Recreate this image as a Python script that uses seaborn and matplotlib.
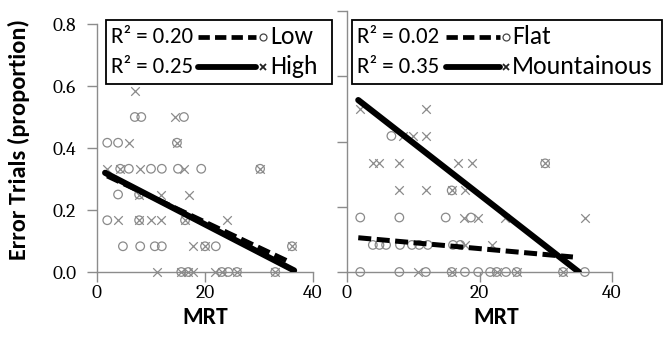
import matplotlib
matplotlib.use("Agg")
import matplotlib.pyplot as plt
import seaborn as sns
import pandas as pd
from matplotlib.lines import Line2D
from matplotlib.patches import Rectangle
from matplotlib.font_manager import FontProperties

# ---------------- data ----------------
# Left panel: Low (circles) / High (crosses)
low_mrt = [7.0, 8.2, 16.1, 1.9, 3.9, 14.8, 4.3, 5.9, 10.0, 12.0, 15.0, 19.3, 30.2,
           3.9, 7.8, 1.9, 7.8, 16.3, 4.8, 8.0, 10.7, 12.0, 20.0, 22.0, 36.1,
           15.6, 16.9, 23.1, 24.3, 25.9, 33.0]
low_err = [0.5, 0.5, 0.5, 0.417, 0.417, 0.417, 0.333, 0.333, 0.333, 0.333, 0.333, 0.333, 0.333,
           0.25, 0.25, 0.167, 0.167, 0.167, 0.083, 0.083, 0.083, 0.083, 0.083, 0.083, 0.083,
           0.0, 0.0, 0.0, 0.0, 0.0, 0.0]
high_mrt = [7.0, 14.4, 5.9, 14.8, 1.9, 4.3, 8.0, 16.1, 30.2, 7.8, 11.9, 17.0,
            3.9, 7.8, 10.0, 11.9, 16.3, 24.0, 17.8, 20.0, 36.1,
            11.1, 15.6, 16.9, 17.8, 21.9, 23.1, 25.9, 33.0]
high_err = [0.583, 0.5, 0.417, 0.417, 0.333, 0.333, 0.333, 0.333, 0.333, 0.25, 0.25, 0.25,
            0.167, 0.167, 0.167, 0.167, 0.167, 0.167, 0.083, 0.083, 0.083,
            0.0, 0.0, 0.0, 0.0, 0.0, 0.0, 0.0, 0.0]

# Right panel: Flat (circles) / Mountainous (crosses)
flat_mrt = [6.7, 29.9, 15.8, 2.0, 7.9, 14.9, 18.7,
            3.9, 4.9, 5.9, 8.0, 9.8, 10.9, 12.2, 16.0, 17.1,
            2.0, 7.9, 11.9, 15.8, 17.8, 19.8, 21.6, 22.6, 24.0, 25.6, 32.6, 35.9]
flat_err = [0.417, 0.333, 0.25, 0.167, 0.167, 0.167, 0.167,
            0.083, 0.083, 0.083, 0.083, 0.083, 0.083, 0.083, 0.083, 0.083,
            0.0, 0.0, 0.0, 0.0, 0.0, 0.0, 0.0, 0.0, 0.0, 0.0, 0.0, 0.0]
mount_mrt = [2.0, 11.9, 8.5, 10.0, 11.9, 3.9, 4.8, 7.9, 16.8, 18.9, 29.9,
             7.9, 11.9, 15.8, 17.8, 17.6, 19.7, 23.9, 35.9, 17.8, 21.9,
             10.7, 15.8, 22.6, 25.6, 32.6]
mount_err = [0.5, 0.5, 0.417, 0.417, 0.417, 0.333, 0.333, 0.333, 0.333, 0.333, 0.333,
             0.25, 0.25, 0.25, 0.25, 0.167, 0.167, 0.167, 0.167, 0.083, 0.083,
             0.0, 0.0, 0.0, 0.0, 0.0]

# Trend lines
low_fit_x, low_fit_y = [1.9, 35.9], [0.31, 0.03]
high_fit_x, high_fit_y = [1.5, 36.5], [0.32, 0.005]
flat_fit_x, flat_fit_y = [1.7, 34.1], [0.105, 0.046]
mount_fit_x, mount_fit_y = [1.7, 35.0], [0.527, 0.0]

legend_left = [("R\u00b2 = 0.20", "dash", "o", "Low"), ("R\u00b2 = 0.25", "solid", "x", "High")]
legend_right = [("R\u00b2 = 0.02", "dash", "o", "Flat"), ("R\u00b2 = 0.35", "solid", "x", "Mountainous")]

x_ticks = [0, 20, 40]
y_ticks = [0.0, 0.2, 0.4, 0.6, 0.8]
y_tick_labels = ["0.0", "0.2", "0.4", "0.6", "0.8"]

# ---------------- style ----------------
sns.set_theme(style="ticks")
SERIF_FAM = ["Caladea", "Liberation Serif", "DejaVu Serif"]
SANS_FAM = ["Carlito", "Lato", "DejaVu Sans"]
plt.rcParams["font.family"] = SANS_FAM

GRAY = "#8a8a8a"
SPINE = "#8c8c8c"
W, H = 663, 345

fig = plt.figure(figsize=(W / 100, H / 100), dpi=100)


def rect(l, r, t, b):
    return [l / W, 1 - b / H, (r - l) / W, (b - t) / H]


axL = fig.add_axes(rect(97, 313, 24, 272))
axR = fig.add_axes(rect(347, 612, 11, 272))

tick_fp = FontProperties(family=SERIF_FAM, size=14)
DASH = (0, (2.6, 1.1))


def draw_panel(ax, cx, cy, xx, xy, fcx, fcy, fxx, fxy):
    dc = pd.DataFrame({"MRT": cx, "err": cy})
    dx = pd.DataFrame({"MRT": xx, "err": xy})
    sns.scatterplot(data=dc, x="MRT", y="err", ax=ax, marker="o", s=38,
                    facecolor="none", edgecolor=GRAY, linewidth=0.9, clip_on=False, zorder=3)
    sns.scatterplot(data=dx, x="MRT", y="err", ax=ax, marker="x", s=38,
                    color=GRAY, linewidth=0.9, clip_on=False, zorder=3)
    sns.lineplot(x=fcx, y=fcy, ax=ax, color="black", linewidth=3.6, linestyle=DASH,
                 estimator=None, zorder=4)
    sns.lineplot(x=fxx, y=fxy, ax=ax, color="black", linewidth=4.4,
                 estimator=None, zorder=4)
    ax.set_xlim(0, 40)
    ax.set_ylim(0, 0.8)
    ax.set_xticks(x_ticks)
    ax.set_xticklabels([str(v) for v in x_ticks])
    ax.set_yticks(y_ticks)
    ax.set_yticklabels(y_tick_labels)
    for s in ["top", "right"]:
        ax.spines[s].set_visible(False)
    for s in ["left", "bottom"]:
        ax.spines[s].set_color(SPINE)
        ax.spines[s].set_linewidth(1.0)
    ax.tick_params(direction="out", length=7, width=1.0, color=SPINE, labelcolor="black")
    ax.tick_params(axis="x", pad=2)
    ax.tick_params(axis="y", pad=8)
    for lbl in ax.get_xticklabels() + ax.get_yticklabels():
        lbl.set_fontproperties(tick_fp)
    ax.set_xlabel("MRT", fontsize=17, fontweight="bold", color="black", family=SANS_FAM)
    ax.set_ylabel("")


draw_panel(axL, low_mrt, low_err, high_mrt, high_err, low_fit_x, low_fit_y, high_fit_x, high_fit_y)
draw_panel(axR, flat_mrt, flat_err, mount_mrt, mount_err, flat_fit_x, flat_fit_y, mount_fit_x, mount_fit_y)

axR.tick_params(axis="y", labelleft=False)

axL.xaxis.set_label_coords(0.5, (272 - 318) / 248)
axL.xaxis.label.set_va("center")
axR.xaxis.set_label_coords((496 - 347) / 265, (272 - 318) / 261)
axR.xaxis.label.set_va("center")

axL.set_ylabel("Error Trials (proportion)", fontsize=17.5, fontweight="bold", color="black",
               family=SANS_FAM)
axL.yaxis.set_label_coords((19 - 97) / 216, (272 - 140) / 248)
axL.yaxis.label.set_va("center")


# ---------------- custom legends ----------------
def fx(px):
    return px / W


def fy(py):
    return 1 - py / H


def draw_legend(box, rows, x_text, x_line0, x_line1, x_mark, x_lab, y_rows):
    l, t, r, b = box
    fig.add_artist(Rectangle((fx(l), fy(b)), (r - l) / W, (b - t) / H,
                             transform=fig.transFigure, facecolor="white",
                             edgecolor="black", linewidth=1.3, zorder=10))
    for (r2, style, mk, lab), yy in zip(rows, y_rows):
        fig.text(fx(x_text), fy(yy), r2, fontsize=16.5, va="center", ha="left",
                 color="black", zorder=11, family=SANS_FAM)
        if style == "dash":
            ln = Line2D([fx(x_line0), fx(x_line1)], [fy(yy), fy(yy)], transform=fig.transFigure,
                        color="black", linewidth=3.4, linestyle=(0, (2.4, 1.1)), zorder=11)
        else:
            ln = Line2D([fx(x_line0), fx(x_line1)], [fy(yy), fy(yy)], transform=fig.transFigure,
                        color="black", linewidth=4.2, zorder=11)
        fig.add_artist(ln)
        if mk == "o":
            mm = Line2D([fx(x_mark)], [fy(yy)], transform=fig.transFigure, marker="o",
                        markersize=5, markerfacecolor="none", markeredgecolor="#444444",
                        markeredgewidth=0.9, linestyle="none", zorder=11)
        else:
            mm = Line2D([fx(x_mark)], [fy(yy)], transform=fig.transFigure, marker="x",
                        markersize=5, markeredgecolor="#222222", markeredgewidth=1.3,
                        linestyle="none", zorder=11)
        fig.add_artist(mm)
        fig.text(fx(x_lab), fy(yy), lab, fontsize=18.5, va="center", ha="left",
                 color="black", zorder=11, family=SANS_FAM)


draw_legend((106, 20, 332, 84), legend_left, 111, 198, 256, 263, 270, [37, 67])
draw_legend((352, 20, 662, 84), legend_right, 357, 446, 500, 506, 512, [37, 67])

fig.savefig("out.png", dpi=100)
